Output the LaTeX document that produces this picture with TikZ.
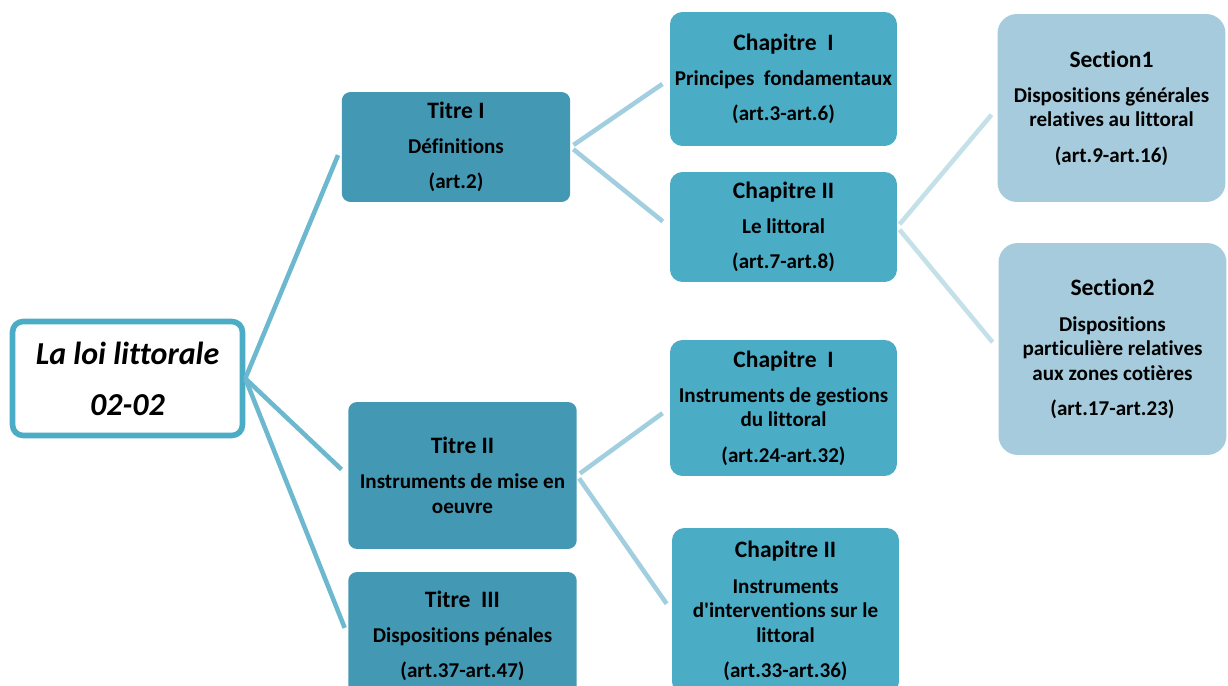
\documentclass[tikz,border=0pt]{standalone}
\usepackage{fontspec}
\setmainfont{Carlito}[Ligatures=NoCommon]
\definecolor{rootline}{HTML}{4BACC6}
\definecolor{titrefill}{HTML}{4399B4}
\definecolor{chapfill}{HTML}{4BACC6}
\definecolor{secfill}{HTML}{A5CBDC}
\definecolor{linkA}{HTML}{6CB8CE}
\definecolor{linkB}{HTML}{A2CFDF}
\definecolor{linkC}{HTML}{C4E0E9}
\newcommand{\hd}[1]{{\fontsize{13.4}{14}\selectfont #1}}

\begin{document}
\begin{tikzpicture}[x=0.02cm,y=-0.02cm,
    every node/.style={font=\bfseries\fontsize{12}{14}\selectfont, align=center, inner sep=0pt},
    racine/.style={draw=rootline, line width=3.2pt, fill=white, rounded corners=6pt,
        minimum width=4.6cm, minimum height=2.28cm,
        font=\bfseries\itshape\fontsize{18.2}{29}\selectfont},
    titre/.style={fill=titrefill, rounded corners=5pt, minimum width=4.57cm},
    chap/.style={fill=chapfill, rounded corners=7pt, minimum width=4.54cm},
    sect/.style={fill=secfill, rounded corners=11pt, minimum width=4.56cm},
    lien/.style={line width=2.6pt, shorten >=5pt},
    lienA/.style={lien, draw=linkA},
    lienB/.style={lien, draw=linkB},
    lienC/.style={lien, draw=linkC}]
    \clip (0,0) rectangle (1228,686);
    \useasboundingbox (0,0) rectangle (1228,686);

    % racine
    \node[racine] (loi) at (127.5,378.5) {La loi littorale\\02-02};

    % titres
    \node[titre, minimum height=2.2cm] (t1) at (456,147)
        {\hd{Titre I}\\[6pt]Définitions\\[6pt](art.2)};
    \node[titre, minimum height=2.94cm] (t2) at (462.5,475.5)
        {\hd{Titre II}\\[6pt]Instruments de mise en\\oeuvre};
    \node[titre, minimum height=2.56cm] (t3) at (462.5,636)
        {\hd{Titre\ \ III}\\[6pt]Dispositions pénales\\[6pt](art.37-art.47)};

    % chapitres
    \node[chap, minimum height=2.68cm] (c1) at (783.5,79)
        {\hd{Chapitre\ \ I}\\[6pt]Principes\ \ fondamentaux\\[6pt](art.3-art.6)};
    \node[chap, minimum height=2.2cm] (c2) at (783.5,227)
        {\hd{Chapitre II}\\[6pt]Le littoral\\[6pt](art.7-art.8)};
    \node[chap, minimum height=2.72cm] (c3) at (783.5,408)
        {\hd{Chapitre\ \ I}\\[6pt]Instruments de gestions\\du littoral\\[6pt](art.24-art.32)};
    \node[chap, minimum height=3.32cm] (c4) at (785.5,611)
        {\hd{Chapitre II}\\[6pt]Instruments\\d\textquotesingle interventions sur le\\littoral\\[6pt](art.33-art.36)};

    % sections
    \node[sect, minimum height=3.76cm] (s1) at (1111.5,108)
        {\hd{Section1}\\[6pt]Dispositions générales\\relatives au littoral\\[6pt](art.9-art.16)};
    \node[sect, minimum height=4.24cm] (s2) at (1112.5,349)
        {\hd{Section2}\\[6pt]Dispositions\\particulière relatives\\aux zones cotières\\[6pt](art.17-art.23)};

    % liens
    \draw[lienA] (loi.east) -- (t1.west);
    \draw[lienA] (loi.east) -- (t2.west);
    \draw[lienA] (loi.east) -- (t3.west);
    \draw[lienB, shorten <=2pt] (t1.east) -- (c1.west);
    \draw[lienB, shorten <=2pt] (t1.east) -- (c2.west);
    \draw[lienB, shorten <=2pt] (t2.east) -- (c3.west);
    \draw[lienB, shorten <=2pt] (t2.east) -- (c4.west);
    \draw[lienC, shorten <=2pt] (c2.east) -- (s1.west);
    \draw[lienC, shorten <=2pt] (c2.east) -- (s2.west);
\end{tikzpicture}
\end{document}
